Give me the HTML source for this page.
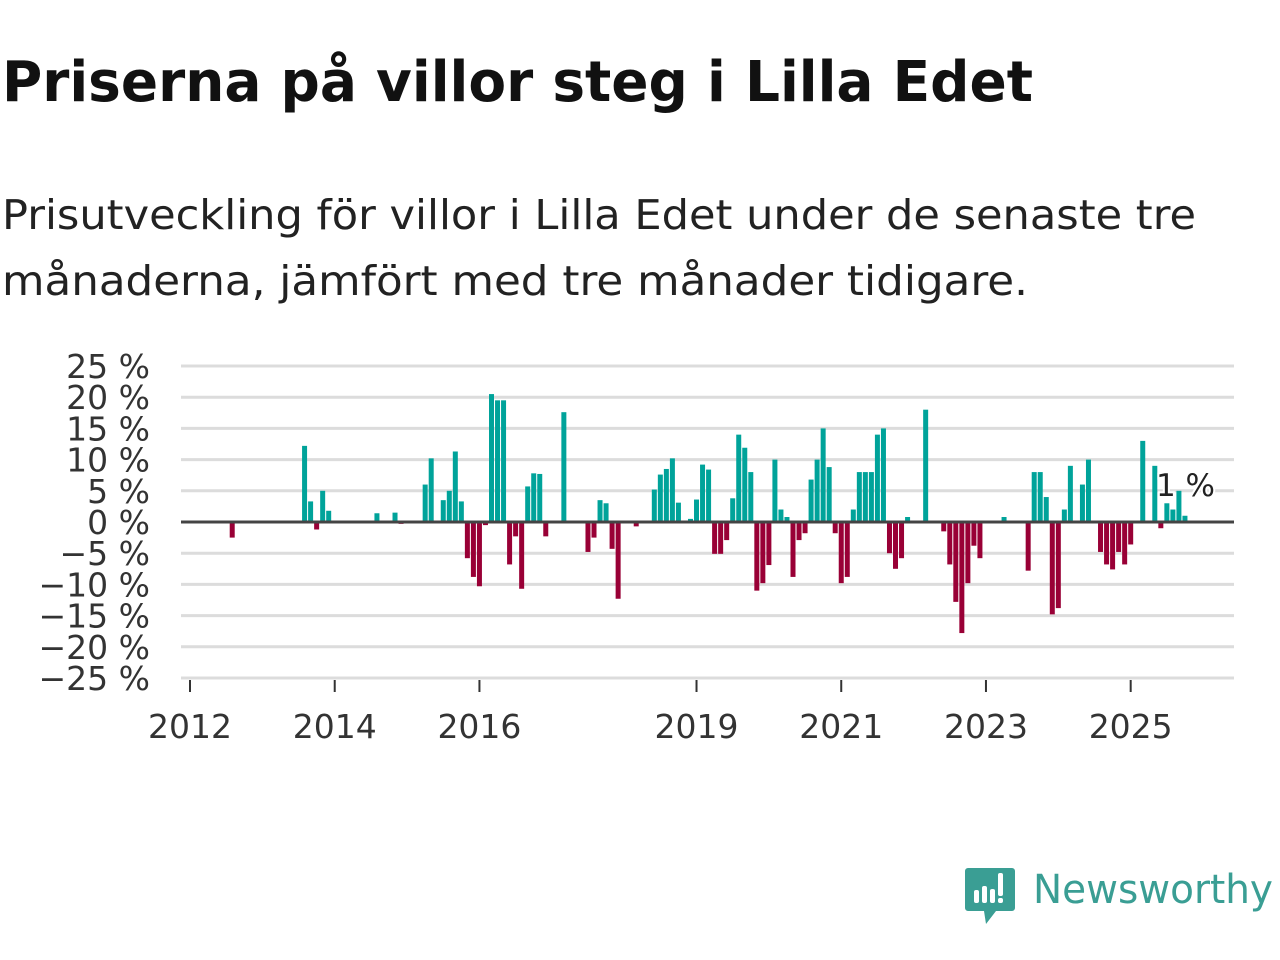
<!DOCTYPE html>
<html><head><meta charset="utf-8"><style>
html,body{margin:0;padding:0;background:#fff;width:1280px;height:960px;overflow:hidden}
svg{display:block}
</style></head><body>
<svg width="1280" height="960" xmlns="http://www.w3.org/2000/svg">
<text x="2" y="101" font-family="'DejaVu Sans','Liberation Sans',sans-serif" font-weight="bold" font-size="56" fill="#111" textLength="1031" lengthAdjust="spacingAndGlyphs">Priserna på villor steg i Lilla Edet</text>
<text x="2" y="229" font-family="'DejaVu Sans','Liberation Sans',sans-serif" font-size="41" fill="#222" textLength="1194" lengthAdjust="spacingAndGlyphs">Prisutveckling för villor i Lilla Edet under de senaste tre</text>
<text x="2" y="295" font-family="'DejaVu Sans','Liberation Sans',sans-serif" font-size="41" fill="#222" textLength="1026" lengthAdjust="spacingAndGlyphs">månaderna, jämfört med tre månader tidigare.</text>
<g id="grid"></g>
<g id="ylabels"></g>
<g id="bars"></g>
<g id="xaxis"></g>
<g>
<path d="M968 868 h44 a3 3 0 0 1 3 3 v37 a3 3 0 0 1 -3 3 h-16 l-10 13 l-2 -13 h-16 a3 3 0 0 1 -3 -3 v-37 a3 3 0 0 1 3 -3z" fill="#3a9e94"/>
<rect x="974" y="890" width="5" height="13" rx="2" fill="#fff"/>
<rect x="982" y="886" width="5" height="17" rx="2" fill="#fff"/>
<rect x="990" y="889" width="5" height="14" rx="2" fill="#fff"/>
<rect x="998" y="873" width="5" height="23" rx="2" fill="#fff"/>
<rect x="998" y="898" width="5" height="5" rx="2" fill="#fff"/>
<text x="1033" y="903" font-family="'DejaVu Sans','Liberation Sans',sans-serif" font-size="40" fill="#3a9e94" textLength="240" lengthAdjust="spacingAndGlyphs">Newsworthy</text>
</g>
</svg>
<script>
const monthIdx=[7,19,20,21,22,23,31,34,35,39,40,42,43,44,45,46,47,48,49,50,51,52,53,54,55,56,57,58,59,62,66,67,68,69,70,71,74,77,78,79,80,81,83,84,85,86,87,88,89,90,91,92,93,94,95,96,97,98,99,100,101,102,103,104,105,106,107,108,109,110,111,112,113,114,115,116,117,118,119,122,125,126,127,128,129,130,131,135,139,140,141,142,143,144,145,146,148,149,151,152,153,154,155,156,158,160,161,162,163,164,165];
const values=[-2.5,12.2,3.3,-1.2,5,1.8,1.4,1.5,-0.3,6,10.2,3.5,5,11.3,3.3,-5.8,-8.8,-10.3,-0.5,20.5,19.5,19.5,-6.8,-2.3,-10.7,5.7,7.8,7.7,-2.3,17.6,-4.8,-2.5,3.5,3,-4.3,-12.3,-0.7,5.2,7.6,8.5,10.2,3.1,0.5,3.6,9.2,8.4,-5.1,-5.1,-2.9,3.8,14,11.9,8,-11,-9.8,-6.9,10,2,0.8,-8.8,-2.9,-1.8,6.8,10,15,8.8,-1.8,-9.8,-8.8,2,8,8,8,14,15,-5,-7.5,-5.8,0.8,18,-1.5,-6.8,-12.8,-17.8,-9.8,-3.8,-5.8,0.8,-7.8,8,8,4,-14.8,-13.8,2,9,6,10,-4.8,-6.8,-7.6,-4.8,-6.8,-3.6,13,9,-1,3,2,5,1];
const yTicks=[25,20,15,10,5,0,-5,-10,-15,-20,-25];
const yTickLabels=["25 %","20 %","15 %","10 %","5 %","0 %","−5 %","−10 %","−15 %","−20 %","−25 %"];
const xTickYears=[2012,2014,2016,2019,2021,2023,2025];
const lastLabel="1 %";
const NS="http://www.w3.org/2000/svg";
const y=v=>522-v*6.24;
const xm=m=>190+m*6.03;
const xYear=yr=>xm((yr-2012)*12);
function mk(t,a,p){const e=document.createElementNS(NS,t);for(const k in a)e.setAttribute(k,a[k]);p.appendChild(e);return e;}
const grid=document.getElementById('grid'),yl=document.getElementById('ylabels'),bars=document.getElementById('bars'),xa=document.getElementById('xaxis');
yTicks.forEach((v,i)=>{
 if(v!==0){const g=mk('line',{x1:181,x2:1234,y1:y(v),y2:y(v),stroke:'#dcdcdc','stroke-width':3},grid);
 
 }
 const t=mk('text',{x:150,y:y(v)+12,'text-anchor':'end','font-family':"'DejaVu Sans','Liberation Sans',sans-serif",'font-size':33,fill:'#333'},yl);
 t.textContent=yTickLabels[i];
 
 
});
monthIdx.forEach((m,i)=>{
 const v=values[i];const x=xm(m)-2.5;
 const r=mk('rect',{x:x,width:5,y:Math.min(y(v),y(0)),height:Math.abs(y(v)-y(0)),fill:v>=0?'#00a39a':'#990036'},bars);
 
 
});
const z=mk('line',{x1:181,x2:1234,y1:y(0),y2:y(0),stroke:'#444','stroke-width':3},bars);


const lm=monthIdx[monthIdx.length-1];
const ll=mk('text',{x:xm(lm)-29,y:496,'font-family':"'DejaVu Sans','Liberation Sans',sans-serif",'font-size':31,fill:'#222',stroke:'#fff','stroke-width':4,'paint-order':'stroke'},bars);
ll.textContent=lastLabel;


xTickYears.forEach(yr=>{
 const x=xYear(yr);
 const tk=mk('line',{x1:x,x2:x,y1:680,y2:692,stroke:'#333','stroke-width':2},xa);
 
 
 const t=mk('text',{x:x,y:738,'text-anchor':'middle','font-family':"'DejaVu Sans','Liberation Sans',sans-serif",'font-size':33,fill:'#333'},xa);
 t.textContent=yr;
 
 
});
</script>
</body></html>
